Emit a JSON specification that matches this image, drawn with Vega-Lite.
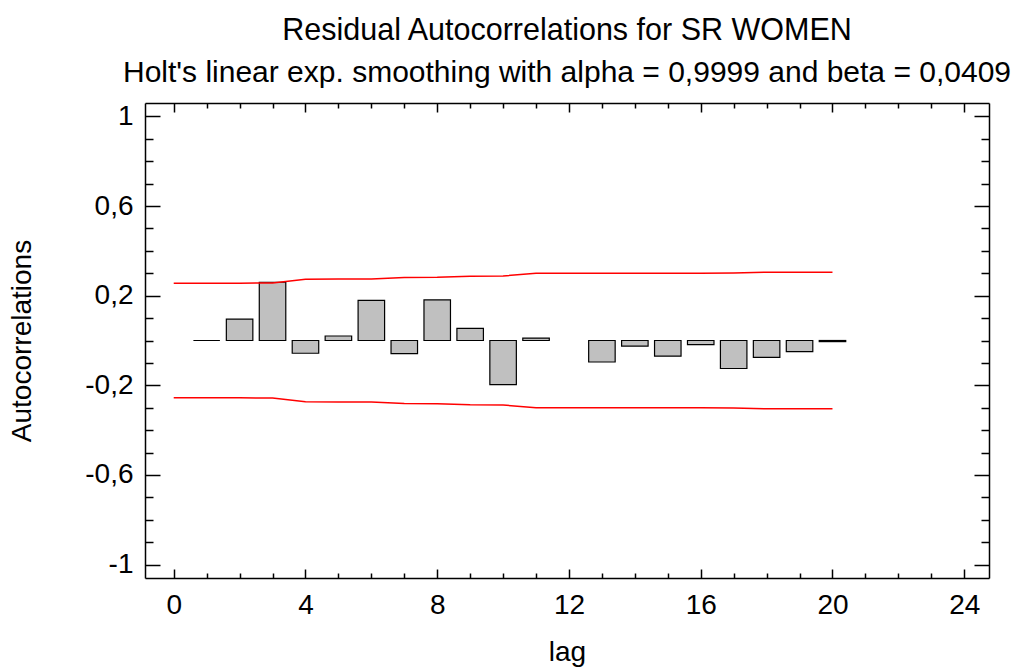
{
  "$schema": "https://vega.github.io/schema/vega-lite/v6.json",
  "autosize": {"type": "none"},
  "width": 844,
  "height": 475,
  "padding": {"left": 145, "top": 103, "right": 25, "bottom": 90},
  "background": "white",
  "title": {
    "text": "Residual Autocorrelations for SR WOMEN",
    "subtitle": "Holt's linear exp. smoothing with alpha = 0,9999 and beta = 0,0409",
    "anchor": "middle",
    "font": "Liberation Sans",
    "subtitleFont": "Liberation Sans",
    "fontSize": 30.5,
    "subtitleFontSize": 30,
    "fontWeight": "normal",
    "color": "black",
    "subtitleColor": "black",
    "offset": 14,
    "subtitlePadding": 12
  },
  "config": {
    "view": {"stroke": null},
    "axis": {
      "labelFont": "Liberation Sans",
      "titleFont": "Liberation Sans",
      "labelFontSize": 28,
      "titleFontSize": 28,
      "titleFontWeight": "normal",
      "labelColor": "black",
      "titleColor": "black",
      "domainColor": "black",
      "domainWidth": 1.5,
      "tickColor": "black",
      "tickWidth": 1.5,
      "grid": false
    }
  },
  "datasets": {
    "acf": [
      {"lag": 1, "value": 0.0},
      {"lag": 2, "value": 0.095},
      {"lag": 3, "value": 0.26},
      {"lag": 4, "value": -0.057},
      {"lag": 5, "value": 0.02},
      {"lag": 6, "value": 0.179},
      {"lag": 7, "value": -0.059},
      {"lag": 8, "value": 0.181},
      {"lag": 9, "value": 0.054},
      {"lag": 10, "value": -0.197},
      {"lag": 11, "value": 0.011},
      {"lag": 13, "value": -0.096},
      {"lag": 14, "value": -0.025},
      {"lag": 15, "value": -0.07},
      {"lag": 16, "value": -0.018},
      {"lag": 17, "value": -0.125},
      {"lag": 18, "value": -0.075},
      {"lag": 19, "value": -0.05},
      {"lag": 20, "value": -0.005}
    ],
    "limits": [
      {"lag": 0, "upper": 0.256, "lower": -0.256},
      {"lag": 1, "upper": 0.256, "lower": -0.256},
      {"lag": 2, "upper": 0.256, "lower": -0.256},
      {"lag": 3, "upper": 0.257, "lower": -0.257},
      {"lag": 4, "upper": 0.273, "lower": -0.273},
      {"lag": 5, "upper": 0.274, "lower": -0.274},
      {"lag": 6, "upper": 0.275, "lower": -0.275},
      {"lag": 7, "upper": 0.281, "lower": -0.281},
      {"lag": 8, "upper": 0.282, "lower": -0.282},
      {"lag": 9, "upper": 0.287, "lower": -0.287},
      {"lag": 10, "upper": 0.288, "lower": -0.288},
      {"lag": 11, "upper": 0.3, "lower": -0.3},
      {"lag": 12, "upper": 0.3, "lower": -0.3},
      {"lag": 13, "upper": 0.3, "lower": -0.3},
      {"lag": 14, "upper": 0.3, "lower": -0.3},
      {"lag": 15, "upper": 0.3, "lower": -0.3},
      {"lag": 16, "upper": 0.3, "lower": -0.3},
      {"lag": 17, "upper": 0.301, "lower": -0.301},
      {"lag": 18, "upper": 0.305, "lower": -0.305},
      {"lag": 19, "upper": 0.305, "lower": -0.305},
      {"lag": 20, "upper": 0.305, "lower": -0.305}
    ]
  },
  "layer": [
    {
      "data": {"name": "acf"},
      "mark": {"type": "bar", "width": 26.5, "fill": "#C0C0C0", "stroke": "black", "strokeWidth": 1.2},
      "encoding": {
        "x": {
          "field": "lag", "type": "quantitative",
          "scale": {"domain": [-0.72, 24.6], "nice": false, "zero": false},
          "axis": {
            "orient": "bottom",
            "title": "lag",
            "titleX": 422,
            "titleY": 74,
            "titleBaseline": "middle",
            "values": [0,1,2,3,4,5,6,7,8,9,10,11,12,13,14,15,16,17,18,19,20,21,22,23,24],
            "tickSize": {"condition": {"test": "datum.value % 4 === 0", "value": -9}, "value": -5},
            "labelExpr": "datum.value % 4 === 0 ? datum.label : ''",
            "labelPadding": 22
          }
        },
        "y": {
          "field": "value", "type": "quantitative",
          "scale": {"domain": [-1.06, 1.06], "nice": false, "zero": false},
          "axis": {
            "orient": "left",
            "title": "Autocorrelations",
            "titleX": -123,
            "titleY": 237.5,
            "titleBaseline": "middle",
            "titleAngle": -90,
            "titleAlign": "center",
            "values": [-1,-0.9,-0.8,-0.7,-0.6,-0.5,-0.4,-0.3,-0.2,-0.1,0,0.1,0.2,0.3,0.4,0.5,0.6,0.7,0.8,0.9,1],
            "tickSize": {"condition": {"test": "abs(round(datum.value*10)) % 4 === 2", "value": -15}, "value": -8},
            "labelExpr": "abs(round(datum.value*10)) % 4 === 2 ? replace(replace(format(datum.value, '.1~f'), '.', ','), '\u2212', '-') : ''",
            "labelPadding": 27
          }
        },
        "y2": {"datum": 0}
      }
    },
    {
      "data": {"name": "limits"},
      "mark": {"type": "line", "color": "#FF0000", "strokeWidth": 1.5},
      "encoding": {
        "x": {
          "field": "lag", "type": "quantitative",
          "axis": {
            "orient": "top",
            "title": null,
            "values": [0,1,2,3,4,5,6,7,8,9,10,11,12,13,14,15,16,17,18,19,20,21,22,23,24],
            "tickSize": {"condition": {"test": "datum.value % 4 === 0", "value": -9}, "value": -5},
            "labels": false
          }
        },
        "y": {
          "field": "upper", "type": "quantitative",
          "axis": {
            "orient": "right",
            "title": null,
            "values": [-1,-0.9,-0.8,-0.7,-0.6,-0.5,-0.4,-0.3,-0.2,-0.1,0,0.1,0.2,0.3,0.4,0.5,0.6,0.7,0.8,0.9,1],
            "tickSize": {"condition": {"test": "abs(round(datum.value*10)) % 4 === 2", "value": -15}, "value": -8},
            "labels": false
          }
        }
      }
    },
    {
      "data": {"name": "limits"},
      "mark": {"type": "line", "color": "#FF0000", "strokeWidth": 1.5},
      "encoding": {
        "x": {"field": "lag", "type": "quantitative", "axis": null},
        "y": {"field": "lower", "type": "quantitative", "axis": null}
      }
    }
  ]
}
